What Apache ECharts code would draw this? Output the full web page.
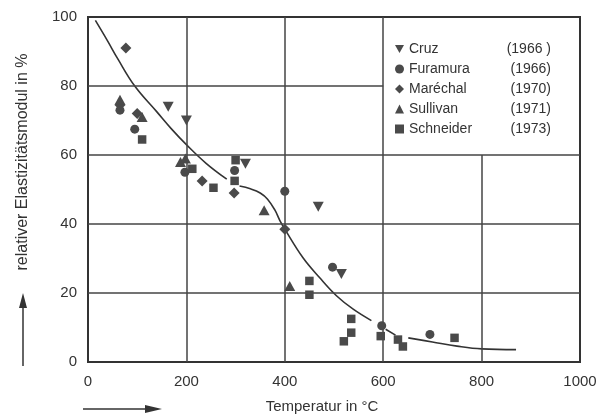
<!DOCTYPE html>
<html>
<head>
<meta charset="utf-8">
<script src="https://cdn.jsdelivr.net/npm/echarts@6/dist/echarts.min.js"></script>
<style>
html,body{margin:0;padding:0;background:#fff;}
#c{width:608px;height:419px;}
</style>
</head>
<body>
<div id="c"></div>
<script>
// ---- data ----
const cruz = [[163,74],[200,70],[320,57.5],[468,45],[515,25.5]];
const furamura = [[65,73],[95,67.5],[197,55],[298,55.5],[400,49.5],[497,27.5],[597,10.5],[695,8]];
const marechal = [[77,91],[65,74.5],[100,72],[232,52.5],[297,49],[400,38.5]];
const sullivan = [[65,76],[110,71],[188,58],[198,59],[358,44],[410,22]];
const schneider = [[110,64.5],[212,56],[255,50.5],[300,58.5],[298,52.5],[450,23.5],[450,19.5],[520,6],[535,12.5],[535,8.5],[595,7.5],[630,6.5],[640,4.5],[745,7]];
const curve = [[15,99],[40,93],[60,88],[95,80],[140,72.5],[170,67.5],[200,63],[240,57.6],[282,53],
  [295,null],
  [308,51],[330,50.2],[350,49],[365,47.2],[380,44],[390,41],[400,38.5],[437,30.2],[471,24.4],[505,19.2],[539,15.3],[576,12],
  [590,null],
  [605,9.5],[625,7.8],
  [638,null],
  [651,7],[700,5.8],[750,4.6],[800,3.8],[870,3.6]];
const years = {"Cruz":"(1966 )","Furamura":"(1966)","Maréchal":"(1970)","Sullivan":"(1971)","Schneider":"(1973)"};
const xTicks = [0,200,400,600,800,1000];
const yTicks = [0,20,40,60,80,100];
// grid line segments [[x1,y1],[x2,y2]]
const gridSegs = [
  [[200,0],[200,100]],[[400,0],[400,100]],[[600,0],[600,100]],[[800,0],[800,60]],
  [[0,20],[1000,20]],[[0,40],[1000,40]],[[0,60],[1000,60]],[[0,80],[600,80]]
];

const C = '#4a4a4a';
const FONT = 'Liberation Sans';
const triDown = 'path://M0,0 L10,0 L5,9 Z';

const chart = echarts.init(document.getElementById('c'), null, {renderer:'canvas'});
function sc(name, data, symbol, size){
  return {name, type:'scatter', data, symbol, symbolSize:size, z:5,
    itemStyle:{color:C, opacity:1}};
}
const option = {
  animation:false,
  backgroundColor:'#fff',
  textStyle:{fontFamily:FONT},
  grid:{left:88, right:28, top:17, bottom:54, show:true, borderColor:'#333', borderWidth:2, backgroundColor:'transparent'},
  xAxis:{type:'value', min:xTicks[0], max:xTicks[xTicks.length-1], interval:200,
    axisLine:{show:false}, axisTick:{show:false}, splitLine:{show:false},
    axisLabel:{color:'#333', fontSize:15, margin:12, fontFamily:FONT, formatter: v => String(v)},
    name:'Temperatur in °C', nameLocation:'middle', nameGap:37,
    nameTextStyle:{color:'#333', fontSize:15, fontFamily:FONT, padding:[0,24,0,0]}
  },
  yAxis:{type:'value', min:yTicks[0], max:yTicks[yTicks.length-1], interval:20,
    axisLine:{show:false}, axisTick:{show:false}, splitLine:{show:false},
    axisLabel:{color:'#333', fontSize:15, margin:11, fontFamily:FONT, formatter: v => String(v)}
  },
  legend:{orient:'vertical', left:390, top:37, itemWidth:9, itemHeight:9, itemGap:6,
    formatter: n => '{a|'+n+'}{b|'+years[n]+'}',
    textStyle:{color:'#333', fontSize:14, fontFamily:FONT,
      rich:{a:{width:96, fontSize:14, color:'#333', fontFamily:FONT}, b:{width:46, align:'right', fontSize:14, color:'#333', fontFamily:FONT}}},
    data:['Cruz','Furamura','Maréchal','Sullivan','Schneider']
  },
  graphic:[
    {type:'text', x:23, y:162, rotation:Math.PI/2, style:{text:'relativer Elastizitätsmodul in %', fill:'#333', font:'16px '+FONT, align:'center', verticalAlign:'middle'}},
    {type:'line', shape:{x1:23, y1:366, x2:23, y2:305}, style:{stroke:'#333', lineWidth:1.5}},
    {type:'polygon', shape:{points:[[19,308],[27,308],[23,293]]}, style:{fill:'#333'}},
    {type:'line', shape:{x1:83, y1:409, x2:150, y2:409}, style:{stroke:'#333', lineWidth:1.5}},
    {type:'polygon', shape:{points:[[145,405],[145,413],[162,409]]}, style:{fill:'#333'}}
  ],
  series:[
    {name:'grid', type:'line', data:[], silent:true,
      markLine:{silent:true, symbol:['none','none'], label:{show:false},
        lineStyle:{color:'#444', width:1.5, type:'solid'},
        data: gridSegs.map(s => [{coord:s[0]},{coord:s[1]}])}},
    {name:'curve', type:'line', data:curve, smooth:0.4, showSymbol:false, connectNulls:false, z:3,
      lineStyle:{color:'#333', width:1.6}},
    sc('Cruz', cruz, triDown, [11,10]),
    sc('Furamura', furamura, 'circle', 9),
    sc('Maréchal', marechal, 'diamond', [11,11]),
    sc('Sullivan', sullivan, 'triangle', [11,10]),
    sc('Schneider', schneider, 'rect', 8.5)
  ]
};
chart.setOption(option);
</script>
</body>
</html>
